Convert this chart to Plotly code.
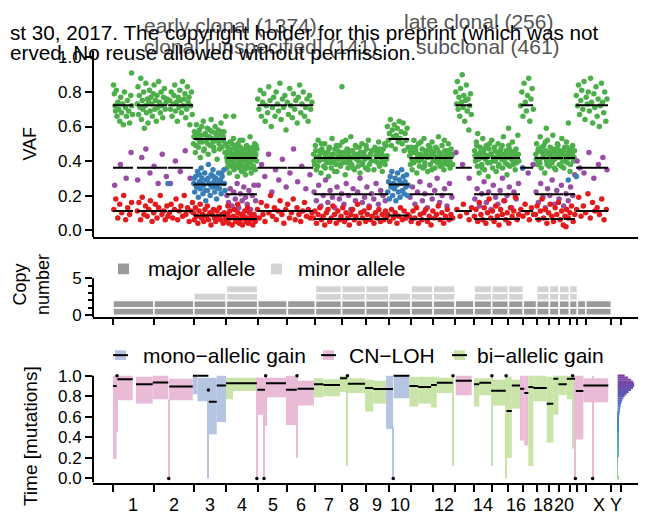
import plotly.graph_objects as go

W, H = 650, 524
BODY = 8                      # default page margin of the html body
FW, FH = W - BODY, H - BODY   # figure size that fits the window
FONT = "Liberation Sans, Arial, Helvetica, sans-serif"

# ---------------- genome layout (hg19, Mb) ----------------
chrom_names = ['1', '2', '3', '4', '5', '6', '7', '8', '9', '10', '11', '12', '13', '14', '15',
               '16', '17', '18', '19', '20', '21', '22', 'X', 'Y']
chrom_len_mb = [249.3, 243.2, 198.0, 191.2, 180.9, 171.1, 159.1, 146.4, 141.2, 135.5, 135.0, 133.9,
                115.2, 107.3, 102.5, 90.4, 81.2, 78.1, 59.1, 63.0, 48.1, 51.3, 155.3, 59.4]
chrom_labels_shown = ['1', '2', '3', '4', '5', '6', '7', '8', '9', '10', '12', '14', '16', '18', '20', 'X', 'Y']

# copy number per chromosome
cn_major = [2, 2, 2, 2, 2, 2, 2, 2, 2, 2, 2, 2, 2, 2, 2, 2, 2, 2, 2, 2, 2, 2, 2, 0]
cn_minor = [0, 0, 1, 2, 0, 0, 2, 2, 2, 1, 2, 2, 0, 2, 2, 2, 0, 2, 2, 2, 2, 0, 0, 0]

# ---------------- VAF points: (genome position Mb, VAF %) ----------------
early_pts = [
    (3, 84), (8, 79), (12, 72), (15, 69), (20, 81), (24, 66), (30, 74), (35, 70), (41, 63), (47, 77), (52, 68),
    (58, 73), (63, 61), (70, 80), (76, 71), (82, 66), (88, 75), (95, 69), (101, 62), (108, 78), (114, 72),
    (119, 67), (113, 91),
    (148, 73), (152, 83), (156, 67), (160, 78), (165, 71), (169, 88), (173, 64), (178, 75), (182, 70), (187, 80),
    (191, 59), (196, 72), (200, 85), (204, 68), (209, 76), (213, 62), (218, 74), (222, 81), (226, 69), (231, 77),
    (236, 73), (240, 66), (245, 79), (250, 84), (255, 70), (259, 75), (264, 63), (268, 78), (273, 71), (278, 86),
    (283, 74), (288, 68), (293, 80), (298, 72), (303, 65), (308, 77), (313, 82), (318, 70), (323, 74), (329, 76),
    (345, 75), (350, 70), (355, 80), (360, 66), (366, 73), (371, 78), (376, 84), (381, 69), (386, 74), (392, 63),
    (397, 77), (402, 71), (407, 81), (412, 75), (417, 68), (423, 86), (428, 72), (433, 76), (438, 79), (443, 65),
    (448, 70), (453, 83), (458, 74), (463, 77), (468, 61), (473, 72), (478, 80), (483, 67),
    (490, 50), (496, 57), (502, 45), (508, 61), (514, 53), (520, 48), (526, 58), (532, 42), (538, 55), (544, 51),
    (550, 63), (556, 47), (562, 56), (568, 52), (574, 59), (580, 44), (586, 54), (592, 49), (598, 64), (604, 57),
    (610, 51), (616, 46), (622, 60), (628, 53), (634, 41), (640, 58), (646, 50), (652, 55), (658, 62), (664, 48),
    (670, 52), (676, 57), (682, 45), (687, 66), (493, 54), (505, 49), (517, 56), (529, 51), (541, 60), (553, 46),
    (565, 55), (577, 50), (589, 58), (601, 53), (613, 48), (625, 56), (637, 52), (649, 47), (661, 57), (673, 54),
    (685, 50),
    (692, 42), (695, 36), (699, 48), (702, 39), (706, 45), (709, 33), (713, 51), (716, 40), (720, 44), (723, 37),
    (727, 47), (730, 41), (734, 53), (737, 35), (741, 43), (744, 49), (748, 38), (751, 46), (755, 42), (758, 31),
    (762, 50), (765, 39), (769, 44), (772, 36), (776, 48), (779, 41), (783, 34), (786, 45), (790, 52), (793, 40),
    (797, 37), (800, 43), (804, 47), (807, 32), (811, 41), (814, 49), (818, 38), (821, 44), (825, 36), (828, 46),
    (832, 42), (835, 54), (839, 39), (842, 33), (846, 45), (849, 41), (853, 48), (856, 37), (860, 43), (863, 50),
    (867, 35), (870, 44), (874, 40), (877, 47), (735, 66), (690, 45), (697, 40), (704, 38), (711, 46), (718, 42),
    (725, 50), (732, 39), (739, 44), (746, 36), (753, 47), (760, 41), (767, 45), (774, 52), (781, 38), (788, 43),
    (795, 46), (802, 35), (809, 44), (816, 41), (823, 48), (830, 39), (837, 45), (844, 43), (851, 36), (858, 46),
    (865, 42), (872, 49),
    (882, 76), (889, 70), (897, 81), (904, 66), (912, 74), (919, 79), (927, 63), (934, 72), (942, 68), (949, 83),
    (957, 75), (964, 60), (972, 71), (979, 77), (987, 66), (994, 80), (1002, 73), (1009, 69), (1017, 85),
    (1024, 64), (1032, 76), (1039, 71), (1047, 78), (1054, 58), (1062, 74), (1069, 67), (1077, 82), (1084, 72),
    (1092, 65), (1099, 79), (1107, 70), (1114, 75), (1122, 62), (1129, 77), (1137, 84), (1144, 68), (1152, 73),
    (1159, 80), (1167, 66), (1174, 71), (1182, 76), (1189, 63), (1197, 78), (1204, 70), (1212, 74),
    (1222, 44), (1228, 38), (1233, 49), (1239, 35), (1245, 42), (1250, 52), (1256, 40), (1262, 46), (1267, 33),
    (1273, 47), (1279, 41), (1284, 37), (1290, 50), (1296, 43), (1301, 39), (1307, 45), (1313, 31), (1318, 48),
    (1324, 42), (1330, 36), (1335, 53), (1341, 44), (1347, 40), (1352, 47), (1358, 38), (1364, 34), (1369, 46),
    (1375, 41), (1381, 49), (1386, 37), (1392, 43), (1398, 51), (1403, 39), (1409, 45), (1415, 32), (1420, 42),
    (1426, 47), (1432, 36), (1437, 44), (1443, 40), (1449, 54), (1454, 38), (1460, 46), (1466, 42), (1471, 35),
    (1477, 49), (1483, 41), (1488, 44), (1494, 37), (1500, 48), (1505, 33), (1511, 43), (1517, 50), (1522, 39),
    (1528, 45), (1534, 41), (1539, 36), (1545, 47), (1551, 42), (1556, 52), (1562, 38), (1568, 44), (1573, 40),
    (1590, 35), (1596, 48), (1602, 43), (1607, 46), (1613, 39), (1619, 51), (1624, 37), (1630, 42), (1636, 45),
    (1641, 34), (1647, 47), (1653, 41), (1658, 38), (1664, 49), (1670, 43), (1395, 83), (1582, 46),
    (1225, 40), (1236, 46), (1247, 37), (1258, 43), (1270, 50), (1281, 45), (1293, 36), (1304, 41), (1316, 47),
    (1327, 39), (1338, 44), (1350, 34), (1361, 49), (1372, 43), (1384, 38), (1395, 45), (1406, 41), (1418, 52),
    (1429, 39), (1440, 46), (1452, 42), (1463, 36), (1474, 44), (1486, 48), (1497, 40), (1508, 45), (1520, 38),
    (1531, 43), (1542, 49), (1554, 35), (1565, 42), (1576, 46), (1599, 40), (1610, 44), (1622, 47), (1633, 39),
    (1644, 43), (1656, 50), (1667, 41),
    (1672, 60), (1678, 52), (1684, 56), (1690, 64), (1696, 49), (1702, 58), (1708, 54), (1714, 61), (1720, 47),
    (1726, 55), (1732, 59), (1738, 51), (1744, 63), (1750, 53), (1756, 57), (1762, 50), (1768, 62), (1774, 46),
    (1780, 56), (1786, 52), (1792, 59), (1798, 48),
    (1807, 43), (1812, 38), (1818, 48), (1823, 35), (1829, 45), (1834, 52), (1840, 40), (1845, 46), (1851, 33),
    (1856, 42), (1862, 50), (1867, 37), (1873, 44), (1878, 41), (1884, 47), (1889, 36), (1895, 53), (1900, 39),
    (1906, 45), (1911, 42), (1917, 34), (1922, 49), (1928, 43), (1933, 38), (1939, 46), (1944, 51), (1950, 40),
    (1955, 44), (1961, 36), (1966, 48), (1972, 42), (1977, 39), (1983, 54), (1988, 45), (1994, 37), (1999, 43),
    (2005, 49), (2010, 41), (2016, 35), (2021, 46), (2027, 40), (2032, 44), (2038, 38), (2043, 50), (2049, 42),
    (2054, 36), (2060, 47), (2066, 43), (1810, 46), (1821, 41), (1832, 39), (1843, 48), (1854, 44), (1865, 40),
    (1876, 51), (1887, 43), (1898, 37), (1909, 46), (1920, 42), (1931, 48), (1942, 35), (1953, 45), (1964, 41),
    (1975, 47), (1986, 40), (1997, 44), (2008, 38), (2019, 52), (2030, 43), (2041, 46), (2052, 40), (2063, 44),
    (2070, 38),
    (2088, 80), (2093, 73), (2098, 86), (2103, 70), (2108, 77), (2113, 66), (2118, 82), (2123, 74), (2128, 90),
    (2133, 71), (2138, 78), (2143, 63), (2148, 75), (2153, 84), (2158, 69), (2163, 76), (2168, 58), (2173, 72),
    (2178, 79), (2183, 67),
    (2203, 46), (2209, 40), (2214, 51), (2220, 37), (2225, 44), (2231, 33), (2236, 48), (2242, 42), (2247, 38),
    (2253, 53), (2258, 45), (2264, 35), (2269, 41), (2275, 49), (2280, 43), (2286, 31), (2291, 47), (2297, 39),
    (2302, 44), (2308, 52), (2313, 36), (2319, 42), (2324, 48), (2330, 40), (2335, 34), (2341, 45), (2346, 50),
    (2352, 38), (2357, 43), (2363, 47), (2368, 41), (2374, 36), (2379, 54), (2385, 44), (2390, 39), (2396, 46),
    (2401, 32), (2407, 42), (2412, 49), (2418, 37), (2423, 45), (2429, 41), (2434, 51), (2440, 38), (2445, 43),
    (2451, 35), (2456, 47), (2462, 42), (2467, 55), (2473, 40), (2206, 43), (2217, 49), (2228, 41), (2239, 45),
    (2250, 36), (2261, 47), (2272, 43), (2283, 39), (2294, 50), (2305, 44), (2316, 40), (2327, 46), (2338, 42),
    (2349, 37), (2360, 45), (2371, 49), (2382, 41), (2393, 44), (2404, 38), (2415, 47), (2426, 43), (2437, 40),
    (2448, 46), (2459, 39), (2470, 44), (2222, 56), (2410, 59),
    (2484, 72), (2491, 80), (2498, 66), (2505, 85), (2512, 74), (2519, 69), (2526, 78), (2533, 88), (2540, 63),
    (2547, 76), (2554, 82), (2561, 70),
    (2576, 44), (2581, 50), (2587, 38), (2592, 47), (2598, 41), (2603, 54), (2609, 36), (2614, 45), (2620, 42),
    (2625, 49), (2631, 33), (2636, 46), (2642, 40), (2647, 52), (2653, 44), (2658, 37), (2664, 48), (2669, 43),
    (2675, 39), (2680, 55), (2686, 45), (2691, 41), (2697, 35), (2702, 47), (2708, 50), (2713, 42), (2719, 38),
    (2724, 46), (2730, 44), (2735, 53), (2741, 40), (2746, 36), (2752, 48), (2757, 43), (2763, 51), (2768, 39),
    (2774, 45), (2779, 42), (2785, 34), (2790, 47), (2796, 44), (2801, 49), (2807, 40), (2812, 46), (2640, 59),
    (2775, 62), (2579, 41), (2590, 46), (2601, 39), (2612, 48), (2623, 43), (2634, 51), (2645, 38), (2656, 45),
    (2667, 41), (2678, 47), (2689, 36), (2700, 44), (2711, 49), (2722, 42), (2733, 37), (2744, 46), (2755, 40),
    (2766, 48), (2777, 43), (2788, 38), (2799, 45), (2810, 42),
    (2823, 78), (2830, 72), (2836, 84), (2843, 67), (2850, 75), (2856, 81), (2863, 70), (2870, 86), (2876, 64),
    (2883, 77), (2890, 73), (2896, 80), (2903, 69), (2910, 88), (2916, 74), (2923, 62), (2930, 79), (2936, 71),
    (2943, 83), (2950, 66), (2956, 76), (2963, 60), (2970, 72), (2976, 85), (2983, 74), (2990, 68), (2996, 80),
    (3003, 63), (3010, 76),
]

late_pts = [
    (10, 26), (45, 38), (80, 30), (110, 45),
    (150, 29), (175, 42), (200, 47), (225, 33), (250, 37), (275, 27), (300, 44), (325, 31),
    (350, 27), (380, 40), (410, 34), (440, 46), (470, 30),
    (694, 20), (704, 16), (714, 24), (725, 14), (735, 22), (745, 18), (756, 27), (766, 13), (776, 21), (787, 17),
    (797, 25), (807, 19), (818, 15), (828, 23), (838, 12), (849, 20), (859, 26), (869, 17),
    (885, 26), (905, 38), (925, 31), (948, 44), (968, 22), (990, 35), (1010, 29), (1032, 41), (1055, 25),
    (1078, 33), (1100, 47), (1125, 28), (1150, 37), (1175, 24), (1200, 32),
    (1225, 22), (1239, 17), (1253, 26), (1267, 14), (1281, 20), (1295, 29), (1309, 16), (1323, 23), (1337, 19),
    (1351, 13), (1365, 25), (1379, 18), (1393, 21), (1407, 15), (1421, 27), (1435, 20), (1449, 12), (1463, 24),
    (1477, 17), (1491, 22), (1505, 30), (1519, 16), (1533, 19), (1547, 25), (1561, 14), (1575, 21), (1589, 18),
    (1603, 27), (1617, 15), (1631, 23), (1645, 20), (1659, 17),
    (1810, 19), (1825, 25), (1840, 15), (1855, 22), (1870, 28), (1885, 17), (1900, 21), (1915, 13), (1930, 26),
    (1945, 18), (1960, 23), (1975, 30), (1990, 16), (2005, 20), (2020, 24), (2035, 14), (2050, 27), (2065, 19),
    (2090, 45), (2130, 38), (2170, 30),
    (2205, 18), (2219, 24), (2233, 14), (2247, 21), (2261, 28), (2275, 16), (2289, 22), (2303, 12), (2317, 26),
    (2331, 19), (2345, 15), (2359, 23), (2373, 30), (2387, 17), (2401, 20), (2415, 25), (2429, 13), (2443, 22),
    (2457, 18), (2471, 27),
    (2495, 36), (2530, 33), (2560, 38),
    (2578, 22), (2592, 16), (2606, 27), (2620, 19), (2634, 13), (2648, 24), (2662, 20), (2676, 29), (2690, 15),
    (2704, 23), (2718, 18), (2732, 26), (2746, 14), (2760, 21), (2774, 17), (2788, 25), (2802, 20), (2814, 32),
    (2828, 40), (2845, 36), (2870, 33), (2900, 45), (2930, 30), (2958, 38), (2985, 42), (3010, 35),
]

sub_pts = [
    (5, 12), (17, 18), (29, 7), (41, 15), (53, 10), (65, 20), (77, 6), (89, 13), (101, 9), (113, 16),
    (148, 11), (158, 16), (168, 6), (178, 19), (188, 9), (198, 14), (208, 8), (218, 12), (228, 17), (238, 5),
    (248, 10), (258, 15), (268, 7), (278, 13), (288, 20), (298, 9), (308, 11), (318, 6), (328, 14), (335, 8),
    (344, 10), (354, 15), (364, 7), (374, 12), (384, 18), (394, 6), (404, 11), (414, 14), (424, 8), (434, 20),
    (444, 9), (454, 13), (464, 5), (474, 11), (484, 16),
    (489, 10), (495, 6), (502, 13), (510, 8), (517, 4), (524, 11), (531, 15), (539, 7), (546, 9), (553, 5),
    (560, 12), (568, 8), (575, 14), (582, 6), (590, 10), (597, 3), (604, 9), (612, 12), (619, 7), (626, 5),
    (634, 11), (641, 8), (648, 13), (656, 6), (663, 9), (671, 4), (678, 10), (686, 7),
    (691, 6), (698, 9), (705, 4), (712, 11), (719, 7), (726, 3), (733, 8), (740, 12), (747, 5), (754, 7),
    (761, 10), (768, 4), (775, 6), (782, 9), (789, 3), (796, 8), (803, 11), (810, 5), (817, 7), (824, 4),
    (831, 10), (838, 6), (845, 8), (852, 3), (859, 9), (866, 5), (873, 7), (700, 14), (760, 15), (820, 13),
    (880, 12), (891, 7), (903, 16), (914, 9), (926, 5), (937, 14), (949, 10), (960, 20), (972, 8), (983, 13),
    (995, 6), (1006, 11), (1018, 17), (1029, 9), (1041, 4), (1052, 12), (1064, 15), (1075, 7), (1087, 10),
    (1098, 18), (1110, 6), (1121, 13), (1133, 9), (1144, 5), (1156, 11), (1167, 16), (1179, 8), (1190, 12),
    (1202, 7), (1213, 10),
    (1220, 7), (1230, 11), (1240, 4), (1250, 9), (1260, 13), (1270, 6), (1280, 8), (1290, 3), (1300, 10),
    (1310, 12), (1320, 5), (1330, 7), (1340, 14), (1350, 9), (1360, 4), (1370, 11), (1380, 6), (1390, 8),
    (1400, 13), (1410, 5), (1420, 10), (1430, 7), (1440, 3), (1450, 9), (1460, 12), (1470, 6), (1480, 8),
    (1490, 15), (1500, 4), (1510, 10), (1520, 7), (1530, 11), (1540, 5), (1550, 9), (1560, 13), (1570, 6),
    (1580, 8), (1590, 4), (1600, 10), (1610, 7), (1620, 12), (1630, 5), (1640, 9), (1650, 6), (1660, 11),
    (1670, 8),
    (1675, 9), (1686, 5), (1697, 12), (1708, 7), (1719, 10), (1730, 4), (1741, 8), (1752, 13), (1763, 6),
    (1774, 11), (1785, 7), (1796, 9),
    (1806, 8), (1817, 5), (1828, 11), (1839, 7), (1850, 13), (1861, 4), (1872, 9), (1883, 6), (1894, 10),
    (1905, 12), (1916, 5), (1927, 8), (1938, 3), (1949, 11), (1960, 7), (1971, 9), (1982, 14), (1993, 6),
    (2004, 10), (2015, 4), (2026, 8), (2037, 12), (2048, 6), (2059, 9), (2070, 7),
    (2095, 12), (2115, 8), (2135, 15), (2155, 10), (2170, 6), (2185, 13),
    (2202, 8), (2212, 12), (2222, 5), (2232, 16), (2242, 9), (2252, 6), (2262, 13), (2272, 4), (2282, 10),
    (2292, 18), (2302, 7), (2312, 11), (2322, 5), (2332, 14), (2342, 8), (2352, 3), (2362, 12), (2372, 9),
    (2382, 17), (2392, 6), (2402, 10), (2412, 4), (2422, 13), (2432, 8), (2442, 11), (2452, 19), (2462, 6),
    (2472, 9),
    (2485, 12), (2498, 8), (2511, 15), (2524, 10), (2537, 6), (2550, 13), (2563, 9),
    (2574, 9), (2584, 14), (2594, 6), (2604, 11), (2614, 18), (2624, 7), (2634, 12), (2644, 4), (2654, 10),
    (2664, 15), (2674, 8), (2684, 5), (2694, 13), (2704, 9), (2714, 16), (2724, 6), (2734, 11), (2744, 3),
    (2754, 8), (2764, 12), (2774, 7), (2784, 10), (2794, 14), (2804, 5), (2814, 9), (2760, 2),
    (2825, 12), (2838, 19), (2852, 8), (2866, 14), (2880, 10), (2894, 21), (2908, 7), (2922, 16), (2936, 11),
    (2950, 13), (2964, 9), (2978, 18), (2992, 6), (3006, 12),
]

unspec_pts = [
    (492, 27), (498, 22), (503, 31), (509, 25), (515, 34), (520, 19), (526, 28), (531, 24), (537, 36), (542, 30),
    (548, 21), (553, 26), (559, 33), (565, 17), (570, 29), (576, 23), (581, 38), (587, 27), (592, 20), (598, 32),
    (604, 25), (609, 35), (615, 28), (620, 22), (626, 30), (631, 18), (637, 26), (643, 33), (648, 24), (654, 29),
    (659, 21), (665, 31), (671, 27), (676, 35), (682, 23), (495, 30), (512, 26), (528, 32), (545, 27), (562, 23),
    (579, 30), (595, 26), (612, 31), (629, 25), (645, 28), (662, 33), (679, 27),
    (1674, 22), (1679, 28), (1684, 18), (1689, 31), (1694, 25), (1699, 34), (1704, 20), (1709, 27), (1714, 24),
    (1719, 30), (1724, 17), (1729, 26), (1734, 33), (1739, 22), (1744, 29), (1749, 19), (1754, 27), (1759, 35),
    (1764, 23), (1769, 31), (1774, 21), (1779, 28), (1784, 25), (1789, 32), (1794, 20), (1799, 26),
    (335, 27), (2497, 36), (2774, 29), (2823, 31),
]

# ---------------- VAF segments and expected VAF lines ----------------
vaf_seg_start = [0, 146, 336, 490, 692, 880, 1064, 1224, 1592, 1680, 1808, 1960, 2088, 2200, 2302, 2484,
                 2572, 2665, 2746, 2822]
vaf_seg_end = [122, 330, 487, 688, 877, 1060, 1220, 1575, 1676, 1804, 1955, 2072, 2186, 2296, 2480, 2560,
               2660, 2742, 2815, 3016]
vaf_seg_state = ['loh', 'loh', 'loh', 'mono', 'bi', 'loh', 'loh', 'bi', 'bi', 'mono', 'bi', 'bi', 'loh', 'bi',
                 'bi', 'loh', 'bi', 'bi', 'bi', 'loh']
state_names = ['loh', 'mono', 'bi']
state_clonal_early = [0.723, 0.527, 0.418]
state_clonal_late = [0.361, 0.264, 0.207]
state_subclonal = [0.111, 0.085, 0.064]

# ---------------- timing segments ----------------
t_start = [0, 22, 27, 140, 242, 337, 342, 487, 515, 579, 584, 632, 689, 731, 874, 879, 918, 928, 932, 1054,
           1118, 1124, 1225, 1282, 1383, 1426, 1431, 1536, 1586, 1664, 1705, 1710, 1806, 1860, 1938, 1973,
           2069, 2088, 2200, 2232, 2304, 2306, 2393, 2398, 2430, 2480, 2506, 2531, 2561, 2643, 2683, 2714,
           2765, 2798, 2815, 2820, 2866, 2920]
t_end = [22, 27, 120, 242, 337, 342, 486, 515, 581, 584, 632, 689, 731, 876, 879, 926, 922, 932, 1054, 1120,
         1124, 1225, 1282, 1383, 1426, 1431, 1536, 1586, 1664, 1706, 1710, 1806, 1860, 1938, 1973, 2070,
         2074, 2186, 2232, 2304, 2393, 2311, 2398, 2430, 2480, 2506, 2531, 2561, 2643, 2683, 2714, 2765,
         2815, 2803, 2820, 2866, 3018, 2925]
t_lo = [0.19, 0.45, 0.76, 0.73, 0.77, 0.00, 0.76, 0.82, 0.75, 0.00, 0.43, 0.55, 0.77, 0.85, 0.00, 0.62, 0.00,
        0.51, 0.79, 0.52, 0.20, 0.71, 0.79, 0.80, 0.84, 0.12, 0.83, 0.65, 0.73, 0.48, 0.00, 0.78, 0.70, 0.73,
        0.69, 0.83, 0.12, 0.81, 0.70, 0.81, 0.71, 0.12, 0.00, 0.20, 0.68, 0.37, 0.32, 0.12, 0.75, 0.35, 0.62,
        0.81, 0.77, 0.29, 0.00, 0.38, 0.74, 0.00]
t_hi = [1.00, 1.00, 1.00, 0.99, 1.00, 0.77, 0.97, 1.00, 0.98, 0.98, 0.98, 1.00, 0.98, 0.98, 0.98, 0.98, 0.62,
        1.00, 0.98, 1.00, 1.00, 0.95, 0.975, 0.965, 1.00, 1.00, 0.975, 0.96, 0.95, 1.00, 0.50, 1.00, 0.99,
        0.99, 0.99, 0.98, 1.00, 1.00, 0.975, 0.975, 0.96, 1.00, 1.00, 0.99, 0.96, 1.00, 1.00, 1.00, 1.00,
        0.99, 1.00, 1.00, 1.00, 1.00, 1.00, 1.00, 0.975, 1.00]
t_est = [0.90, 1.00, 0.965, 0.917, 0.933, 0.00, 0.895, 1.00, 1.00, 0.86, 0.745, 0.905, 0.927, 0.927, 0.00,
         0.863, 0.00, 1.00, 0.927, 0.863, 1.00, 0.873, 0.917, 0.91, 0.975, 1.00, 0.92, 0.88, 0.87, 0.87, 0.00,
         1.00, 0.90, 0.89, 0.91, 0.93, 1.00, 0.95, 0.917, 0.93, 0.853, 1.00, 1.00, 0.657, 0.905, 0.873, 0.83,
         0.89, 0.88, 0.727, 0.97, 0.917, 0.97, 1.00, 0.00, 0.85, 0.905, 0.00]
t_state = ['loh', 'loh', 'loh', 'loh', 'loh', 'loh', 'loh', 'mono', 'mono', 'mono', 'mono', 'mono', 'bi', 'bi',
           'loh', 'loh', 'loh', 'loh', 'loh', 'loh', 'loh', 'loh', 'bi', 'bi', 'bi', 'bi', 'bi', 'bi', 'bi',
           'mono', 'mono', 'mono', 'bi', 'bi', 'bi', 'bi', 'bi', 'loh', 'bi', 'bi', 'bi', 'bi', 'bi', 'bi', 'bi',
           'loh', 'loh', 'bi', 'bi', 'bi', 'bi', 'bi', 'bi', 'bi', 'loh', 'loh', 'loh', 'loh']

# density of mutation timing (right margin of timing panel)
dens_t = [1.00, 0.98, 0.96, 0.94, 0.92, 0.90, 0.88, 0.86, 0.84, 0.82, 0.80, 0.78, 0.76, 0.74, 0.72, 0.70,
          0.68, 0.66, 0.64, 0.62, 0.60, 0.58, 0.56, 0.54, 0.52, 0.50, 0.48, 0.46, 0.44, 0.42, 0.40, 0.38,
          0.36, 0.34, 0.32, 0.30, 0.28, 0.26, 0.24, 0.22, 0.20, 0.18, 0.16, 0.14, 0.12, 0.10, 0.08, 0.06,
          0.04, 0.02, 0.00]
dens_val = [7, 10.5, 13.5, 15.5, 16.5, 16.5, 15.4, 13.4, 11, 8.8, 7.0, 5.6, 4.6, 3.9, 3.3, 2.9, 2.5, 2.2,
            1.9, 1.7, 1.5, 1.35, 1.2, 1.1, 1.0, 0.95, 0.9, 0.85, 0.8, 0.75, 0.7, 0.7, 0.65, 0.6, 0.55, 0.5,
            0.5, 0.45, 0.4, 0.4, 0.35, 0.35, 0.3, 0.3, 0.3, 0.3, 0.3, 0.3, 0.3, 0.4, 0.6]

legend_top = ['early clonal (1374)', 'late clonal (256)', 'clonal [unspecified] (141)', 'subclonal (461)']
legend_cn = ['major allele', 'minor allele']
legend_time = ['mono\u2212allelic gain', 'CN\u2212LOH', 'bi\u2212allelic gain']

# ---------------- styles ----------------
GREEN, PURPLE, RED, BLUE = '#4DAF4A', '#984EA3', '#E41A1C', '#377EB8'
CN_DARK, CN_LIGHT = '#9A9A9A', '#D3D3D3'
T_COL = {'mono': 'rgb(181,196,225)', 'loh': 'rgb(233,187,214)', 'bi': 'rgb(200,228,168)'}
DENS_BASE = 3075
DENS_SCALE = 6.1


def px(x):
    """window pixel x -> paper coordinate"""
    return (x - BODY) / FW


def py(y):
    """window pixel y (from top) -> paper coordinate"""
    return 1 - (y - BODY) / FH


# derived genome coordinates
chrom_start = []
acc = 0.0
for L in chrom_len_mb:
    chrom_start.append(acc)
    acc += L
genome_end = acc
chrom_bounds = chrom_start + [genome_end]
chrom_center = [s + L / 2 for s, L in zip(chrom_start, chrom_len_mb)]

XR = [-122, 3199]
XD = [px(93), px(638)]
VAF_D = [py(237.8), py(46.5)]
CN_D = [py(320.3), py(270.1)]
T_D = [py(489.7), py(375.8)]

fig = go.Figure()

# ---- VAF panel ----
for pts, col in [(early_pts, GREEN), (late_pts, PURPLE), (sub_pts, RED), (unspec_pts, BLUE)]:
    fig.add_trace(go.Scatter(
        x=[p[0] for p in pts], y=[p[1] / 100 for p in pts], mode='markers',
        marker=dict(size=5.5, color=col, line=dict(width=0)), xaxis='x', yaxis='y', hoverinfo='skip'))

lx, ly = [], []
for s, e, st in zip(vaf_seg_start, vaf_seg_end, vaf_seg_state):
    i = state_names.index(st)
    for v in (state_clonal_early[i], state_clonal_late[i], state_subclonal[i]):
        lx += [s, e, None]
        ly += [v, v, None]
fig.add_trace(go.Scatter(x=lx, y=ly, mode='lines', line=dict(color='black', width=2),
                         xaxis='x', yaxis='y', hoverinfo='skip'))

# ---- copy number panel ----
for rows_of, col in [('major', CN_DARK), ('minor', CN_LIGHT)]:
    bx, bb, bw = [], [], []
    for c, L, M, m in zip(chrom_center, chrom_len_mb, cn_major, cn_minor):
        rng = range(0, M) if rows_of == 'major' else range(M, M + m)
        for k in rng:
            bx.append(c)
            bb.append(k)
            bw.append(L)
    fig.add_trace(go.Bar(x=bx, y=[1] * len(bx), base=bb, width=bw,
                         marker=dict(color=col, line=dict(color='white', width=1.5)),
                         xaxis='x2', yaxis='y2', hoverinfo='skip'))

# ---- timing panel ----
fig.add_trace(go.Bar(
    x=[(s + e) / 2 for s, e in zip(t_start, t_end)],
    y=[h - l for l, h in zip(t_lo, t_hi)], base=t_lo,
    width=[max(e - s, 6) for s, e in zip(t_start, t_end)],
    marker=dict(color=[T_COL[s] for s in t_state], line=dict(width=0)),
    xaxis='x3', yaxis='y3', hoverinfo='skip'))

ex, ey, dx, dy = [], [], [], []
for s, e, v in zip(t_start, t_end, t_est):
    if e - s > 8:
        ex += [s, e, None]
        ey += [v, v, None]
    else:
        dx.append((s + e) / 2)
        dy.append(v)
fig.add_trace(go.Scatter(x=ex, y=ey, mode='lines', line=dict(color='black', width=2),
                         xaxis='x3', yaxis='y3', hoverinfo='skip'))
fig.add_trace(go.Scatter(x=dx, y=dy, mode='markers', marker=dict(color='black', size=3.5),
                         xaxis='x3', yaxis='y3', hoverinfo='skip'))

fig.add_trace(go.Bar(
    y=dens_t, x=[d * DENS_SCALE for d in dens_val], base=DENS_BASE, orientation='h', width=0.021,
    marker=dict(color=dens_t, cmin=0, cmax=1, line=dict(width=0),
                colorscale=[[0, '#9ad69a'], [0.25, '#52b0a8'], [0.5, '#3d8cc4'],
                            [0.75, '#5465bd'], [1.0, '#7e3fa2']]),
    xaxis='x3', yaxis='y3', hoverinfo='skip'))

# ---- axes ----
ax = dict(showgrid=False, zeroline=False, linecolor='black', linewidth=2, tickcolor='black',
          tickwidth=1.5, tickfont=dict(family=FONT, size=17, color='black'), fixedrange=True)
vaf_ticks = [0, 0.2, 0.4, 0.6, 0.8, 1.0]
fig.update_layout(
    xaxis=dict(domain=XD, range=XR, anchor='y', showline=True, showticklabels=False, ticks='', **ax),
    yaxis=dict(domain=VAF_D, range=[-0.04, 1.04], anchor='x', showline=False, tickvals=vaf_ticks,
               ticktext=['%.1f' % v for v in vaf_ticks], ticks='outside', ticklen=7, **ax),
    xaxis2=dict(domain=XD, range=XR, anchor='y2', showline=True, tickvals=chrom_bounds, ticks='outside',
                ticklen=6, showticklabels=False, **ax),
    yaxis2=dict(domain=CN_D, range=[-0.3, 6.3], anchor='x2', showline=False, tickvals=[0, 5],
                ticktext=['0', '5'], ticks='outside', ticklen=7,
                minor=dict(tickvals=[1, 2, 3, 4], ticks='outside', ticklen=4, tickwidth=1.5,
                           tickcolor='black', showgrid=False), **ax),
    xaxis3=dict(domain=XD, range=XR, anchor='y3', showline=True, tickvals=chrom_bounds, ticks='outside',
                ticklen=7, showticklabels=False, **ax),
    yaxis3=dict(domain=T_D, range=[-0.04, 1.04], anchor='x3', showline=False, tickvals=vaf_ticks,
                ticktext=['%.1f' % v for v in vaf_ticks], ticks='outside', ticklen=7, **ax),
)

shapes = []
# left axis lines (L-shaped boxes)
shapes.append(dict(type='line', xref='x domain', yref='y', x0=0, x1=0, y0=-0.04, y1=1.04,
                   line=dict(color='black', width=2)))
shapes.append(dict(type='line', xref='x2 domain', yref='y2', x0=0, x1=0, y0=-0.3, y1=5,
                   line=dict(color='black', width=2)))
shapes.append(dict(type='line', xref='x3 domain', yref='y3', x0=0, x1=0, y0=-0.04, y1=1.0,
                   line=dict(color='black', width=2)))

annotations = []


def text(x, y, s, size, color='black', xanchor='left', angle=0, xref='paper'):
    annotations.append(dict(x=x, y=y, xref=xref, yref='paper', text=s, showarrow=False,
                            xanchor=xanchor, yanchor='middle', textangle=angle,
                            font=dict(family=FONT, size=size, color=color)))


# top legend (VAF classes) and preprint watermark
text(px(142), py(21), legend_top[0], 21, '#555555')
text(px(402), py(17), legend_top[1], 21, '#555555')
text(px(142), py(42), legend_top[2], 21, '#555555')
text(px(414), py(42), legend_top[3], 21, '#555555')
text(px(8), py(28), 'st 30, 2017. The copyright holder for this preprint (which was not', 20.7)
text(px(8), py(49), 'erved. No reuse allowed without permission.', 20.7)

# axis titles
text(px(30), py(142), 'VAF', 18, xanchor='center', angle=-90)
text(px(32), py(286), 'Copy<br>number', 18, xanchor='center', angle=-90)
text(px(30), py(442), 'Time [mutations]', 19, xanchor='center', angle=-90)

# chromosome labels
for name, c in zip(chrom_names, chrom_center):
    if name in chrom_labels_shown:
        text(c, py(513), name, 18, xanchor='center', xref='x3')

# copy-number legend
for (x0, col, lab, tx) in [(118, CN_DARK, legend_cn[0], 146), (271, CN_LIGHT, legend_cn[1], 296)]:
    shapes.append(dict(type='rect', xref='paper', yref='paper', x0=px(x0), x1=px(x0 + 11),
                       y0=py(276), y1=py(265), fillcolor=col, line=dict(width=0)))
    text(px(tx), py(270.5), lab, 21)

# timing legend
for (x0, st, lab, tx) in [(115, 'mono', legend_time[0], 141), (323, 'loh', legend_time[1], 347),
                          (454, 'bi', legend_time[2], 475)]:
    shapes.append(dict(type='rect', xref='paper', yref='paper', x0=px(x0), x1=px(x0 + 11),
                       y0=py(364), y1=py(354), fillcolor=T_COL[st], line=dict(width=0)))
    shapes.append(dict(type='line', xref='paper', yref='paper', x0=px(x0 - 2), x1=px(x0 + 13),
                       y0=py(359), y1=py(359), line=dict(color='black', width=2)))
    text(px(tx), py(359), lab, 21)

fig.update_layout(
    width=FW, height=FH, margin=dict(l=0, r=0, t=0, b=0),
    paper_bgcolor='white', plot_bgcolor='white', showlegend=False, barmode='overlay',
    shapes=shapes, annotations=annotations, font=dict(family=FONT),
)

fig.write_html("out.html")
